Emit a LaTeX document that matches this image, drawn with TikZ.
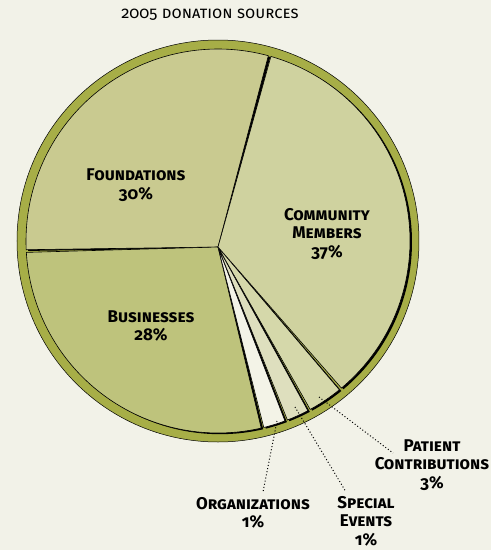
\documentclass[tikz,border=0pt]{standalone}
\usepackage{fontspec}
\setmainfont{Fira Sans}[Numbers=OldStyle]
\usepackage{tikz}
\usetikzlibrary{positioning}
\definecolor{paper}{HTML}{F2F2E8}
\definecolor{olivering}{HTML}{A7AE47}
\definecolor{found}{HTML}{C9CA90}
\definecolor{commun}{HTML}{CFD29F}
\definecolor{busin}{HTML}{BEC37C}
\definecolor{organ}{HTML}{F3F3E7}
\definecolor{special}{HTML}{DEDFBE}
\definecolor{patient}{HTML}{D5D8AA}
\newcommand{\wedgepath}[2]{(apex) -- (#1:192) arc[start angle=#1, end angle=#2, radius=192] -- cycle}
\tikzset {
  % outer rim of the pie
  rim/.style = {draw=black, line width=0.5pt, fill=olivering},
  % one slice, with a dark shadow behind it
  wedge/.style = {draw=black, line width=0.6pt,
    preaction={fill=black, transform canvas={xshift=2pt, yshift=-1.2pt}}},
  % slice names
  tag/.style = {align=center, inner sep=0pt,
    font=\bfseries\scshape\fontsize{17}{18.6}\selectfont},
  % dotted pointer lines
  leader/.style = {line width=1pt, dash pattern=on 1pt off 2.2pt},
}
\begin{document}
\begin{tikzpicture}[x=1pt, y=1pt]
        \fill[paper] (-218,-309) rectangle (273,241);
        \useasboundingbox (-218,-309) rectangle (273,241);

        \node[font=\scshape\fontsize{16.5}{18}\selectfont] (title) at (-8,226) {2005 donation sources};

        \draw[rim] (0,0) circle (201);
        \coordinate (apex) at (0,-6);

        \draw[wedge, fill=found] \wedgepath{74.8}{182.6};
        \draw[wedge, fill=busin] \wedgepath{183.4}{283};
        \draw[wedge, fill=organ] \wedgepath{283.8}{290.4};
        \draw[wedge, fill=special] \wedgepath{291.2}{297.9};
        \draw[wedge, fill=patient] \wedgepath{298.7}{309.2};
        \draw[wedge, fill=commun] \wedgepath{310}{434};

        \node[tag] (found) at (-82,56) {Foundations \\ 30\%};
        \node[tag] (commun) at (109,7) {Community \\ Members \\ 37\%};
        \node[tag] (busin) at (-67,-85) {Businesses \\ 28\%};
        \node[tag] (patient) at (214,-224) {Patient \\ Contributions \\ 3\%};
        \node[tag] (organ) at (35,-272) {Organizations \\ 1\%};
        \node[tag] (special) at (148,-280) {Special \\ Events \\ 1\%};

        \coordinate (organtip) at (59,-180);
        \coordinate (organend) at (45,-251);
        \coordinate (specialtip) at (77,-166);
        \coordinate (specialend) at (128,-251);
        \coordinate (patienttip) at (101,-156);
        \coordinate (patientend) at (175,-212);

        \draw[leader] (organtip) -- (organend);
        \draw[leader] (specialtip) -- (specialend);
        \draw[leader] (patienttip) -- (patientend);
      \end{tikzpicture}
\end{document}
